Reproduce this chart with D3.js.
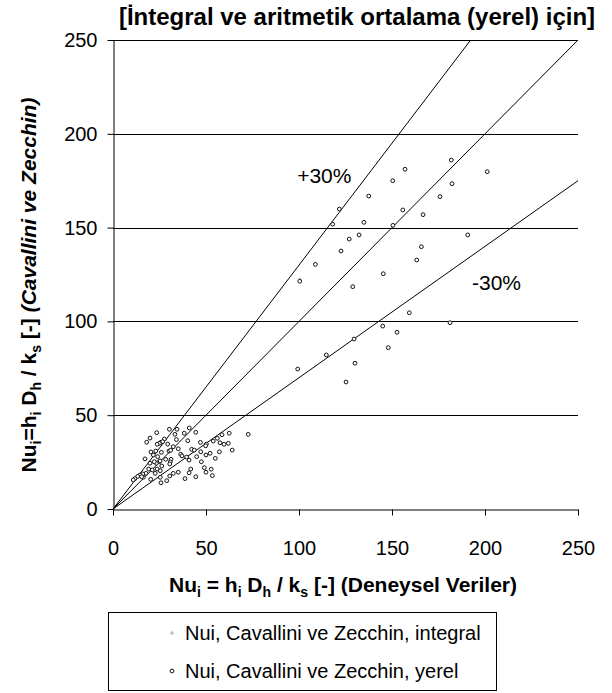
<!DOCTYPE html>
<html><head><meta charset="utf-8">
<script src="https://cdn.jsdelivr.net/npm/d3@7"></script>
<style>body{margin:0;background:#fff}svg{display:block}text{font-family:"Liberation Sans",Arial,sans-serif;fill:#000}</style>
</head><body><svg id="c" width="612" height="693"></svg>
<script>
const titleText = "[İntegral ve aritmetik ortalama (yerel) için]";
const xTicks = [0, 50, 100, 150, 200, 250];
const yTicks = [0, 50, 100, 150, 200, 250];
const refFactors = [1.0, 1.3, 0.7];
const refLabels = [{text: "+30%", x: 99, y: 174}, {text: "-30%", x: 193, y: 117}];
const legendLabels = ["Nui, Cavallini ve Zecchin, integral", "Nui, Cavallini ve Zecchin, yerel"];
// integral series (light gray, mostly hidden)
const integralPts = [[100.5, 122.4]];
// yerel series
const yerelPts = [
 [121.7,159.9],[118.1,151.8],[137.5,166.8],[134.9,152.8],[150.4,175.0],[150.5,151.2],[127.0,143.9],[132.3,146.1],
 [122.6,137.5],[108.8,130.4],[145.3,125.4],[181.9,186.0],[157.0,181.1],[201.2,179.8],[182.3,173.4],[175.8,166.5],
 [155.8,159.4],[166.7,156.9],[190.7,146.1],[165.8,139.8],[163.3,132.7],[100.4,121.4],[128.9,118.5],[145.0,97.5],
 [152.7,94.2],[129.6,90.6],[148.0,86.0],[114.7,82.1],[99.3,74.6],[130.1,77.7],[125.3,67.7],[159.3,104.6],[181.2,99.3],
 [23.5,40.7],[30.3,42.5],[34.4,42.5],[41.0,43.2],[44.5,40.9],[38.3,40.4],[18.1,35.6],[19.9,37.8],[27.6,37.3],
 [25.8,35.6],[26.7,35.9],[24.9,35.0],[23.7,34.5],[29.4,34.6],[33.3,39.8],[32.4,33.2],[40.2,36.4],[35.1,32.1],
 [30.1,30.9],[31.0,31.3],[26.0,30.2],[20.4,30.4],[23.0,30.9],[17.2,26.7],[21.7,28.8],[24.0,27.9],[24.9,25.2],
 [23.3,24.4],[28.3,26.5],[31.2,26.5],[30.8,25.1],[36.4,29.2],[37.1,28.3],[39.6,27.7],[40.9,26.1],[42.3,31.8],
 [43.7,31.4],[47.2,30.5],[50.2,34.6],[49.8,33.7],[53.9,36.2],[56.1,37.7],[58.6,39.6],[62.5,40.4],[57.5,35.3],
 [59.7,34.5],[62.0,35.0],[64.1,31.4],[57.2,30.5],[52.2,29.7],[55.0,27.0],[45.0,27.9],[50.0,28.8],[47.5,25.2],
 [41.8,21.3],[49.1,22.0],[52.8,21.2],[50.0,19.6],[53.4,17.8],[44.5,17.2],[38.7,16.2],[40.9,19.3],[35.1,19.6],
 [32.4,19.0],[30.5,17.6],[28.9,15.1],[25.8,14.0],[25.4,16.9],[20.3,15.8],[22.7,19.0],[25.4,20.4],[23.7,21.3],
 [26.2,22.9],[21.1,20.8],[19.2,21.3],[17.7,19.0],[16.0,18.7],[14.5,18.1],[13.3,17.4],[11.8,16.2],[10.9,15.5],
 [16.3,16.9],[15.4,17.2],[19.9,24.4],[22.2,25.2],[25.3,25.6],[72.7,39.8],[34.1,37.0],[30.5,24.0],[47.0,35.5]
];

const svg = d3.select("#c");
const x = d3.scaleLinear().domain([0, 250]).range([113, 578]);
const y = d3.scaleLinear().domain([0, 250]).range([509, 40]);

// title
svg.append("text").attr("x", 357).attr("y", 25).attr("text-anchor", "middle")
  .attr("font-size", 24).attr("font-weight", "bold").text(titleText);

// gridlines
svg.append("g").selectAll("line").data(yTicks.filter(d => d > 0)).join("line")
  .attr("x1", x(0)).attr("x2", x(250)).attr("y1", d => Math.round(y(d)) + 0.5).attr("y2", d => Math.round(y(d)) + 0.5)
  .attr("stroke", "#000").attr("stroke-width", 1);

// axes
const gx = svg.append("g").attr("transform", `translate(0,${Math.round(y(0)) + 0.5})`)
  .call(d3.axisBottom(x).tickValues(xTicks).tickSize(6).tickPadding(25).tickSizeOuter(0));
const gy = svg.append("g").attr("transform", `translate(${Math.round(x(0)) + 0.5},0)`)
  .call(d3.axisLeft(y).tickValues(yTicks).tickSize(6).tickPadding(10).tickSizeOuter(0));
[gx, gy].forEach(g => {
  g.selectAll("text").attr("font-size", 20).attr("font-family", '"Liberation Sans",Arial,sans-serif').attr("fill", "#000");
  g.selectAll("line,path").attr("stroke", "#000");
});

// reference lines
svg.append("g").selectAll("line").data(refFactors).join("line")
  .attr("x1", x(0)).attr("y1", y(0))
  .attr("x2", f => x(Math.min(250, 250 / f))).attr("y2", f => y(Math.min(250, 250 * f)))
  .attr("stroke", "#000").attr("stroke-width", 1);

svg.append("g").selectAll("text").data(refLabels).join("text")
  .attr("x", d => x(d.x)).attr("y", d => y(d.y)).attr("font-size", 21).text(d => d.text);

// points
svg.append("g").selectAll("circle").data(integralPts).join("circle")
  .attr("cx", d => x(d[0])).attr("cy", d => y(d[1])).attr("r", 1.5)
  .attr("fill", "#ccc").attr("stroke", "#bbb").attr("stroke-width", 0.6);
svg.append("g").selectAll("circle").data(yerelPts).join("circle")
  .attr("cx", d => x(d[0])).attr("cy", d => y(d[1])).attr("r", 1.9)
  .attr("fill", "#fff").attr("stroke", "#111").attr("stroke-width", 1);

// axis titles
function addSubText(t, parts) {
  parts.forEach(p => {
    const ts = t.append("tspan").text(p.t);
    if (p.sub) ts.attr("font-size", 14).attr("dy", 5);
    if (p.after) ts.attr("dy", -5);
    if (p.it) ts.attr("font-style", "italic");
  });
}
const xt = svg.append("text").attr("x", 343).attr("y", 592).attr("text-anchor", "middle")
  .attr("font-size", 21).attr("font-weight", "bold");
addSubText(xt, [{t: "Nu"}, {t: "i", sub: 1}, {t: " = h", after: 1}, {t: "i", sub: 1}, {t: " D", after: 1}, {t: "h", sub: 1},
  {t: " / k", after: 1}, {t: "s", sub: 1}, {t: " [-] (Deneysel Veriler)", after: 1}]);

const yt = svg.append("text").attr("transform", "translate(36,285) rotate(-90)").attr("text-anchor", "middle")
  .attr("font-size", 21).attr("font-weight", "bold");
addSubText(yt, [{t: "Nu"}, {t: "i", sub: 1}, {t: "=h", after: 1}, {t: "i", sub: 1}, {t: " D", after: 1}, {t: "h", sub: 1},
  {t: " / k", after: 1}, {t: "s", sub: 1}, {t: " [-] ", after: 1}, {t: "(Cavallini ve Zecchin)", it: 1}]);

// legend
const lg = svg.append("g");
lg.append("rect").attr("x", 108.5).attr("y", 612.5).attr("width", 388).attr("height", 78)
  .attr("fill", "#fff").attr("stroke", "#000").attr("stroke-width", 1);
const li = lg.selectAll("g.it").data(legendLabels).join("g").attr("class", "it")
  .attr("transform", (d, i) => `translate(0,${633 + i * 38})`);
li.append("circle").attr("cx", 172).attr("cy", 0).attr("r", (d, i) => i === 0 ? 1.5 : 1.9)
  .attr("fill", (d, i) => i === 0 ? "#ccc" : "#fff").attr("stroke", (d, i) => i === 0 ? "#bbb" : "#111")
  .attr("stroke-width", (d, i) => i === 0 ? 0.6 : 1);
li.append("text").attr("x", 185).attr("y", 7).attr("font-size", 20).text(d => d);
</script></body></html>
